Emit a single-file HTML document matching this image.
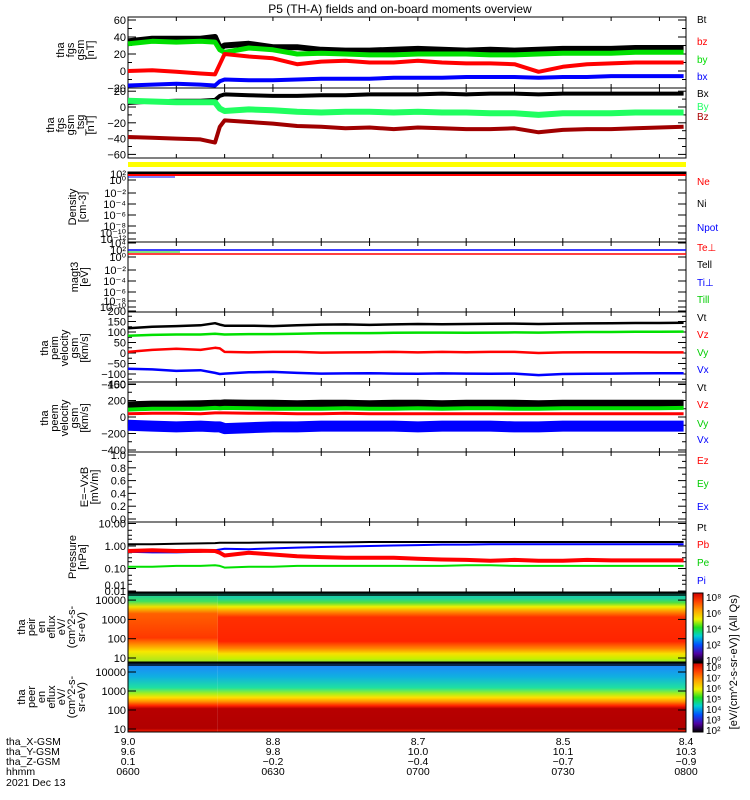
<!DOCTYPE html>
<html><head><meta charset="utf-8"><style>
html,body{margin:0;padding:0;background:#fff;}
svg text{font-family:"Liberation Sans",sans-serif;}
</style></head><body>
<svg id="c" width="750" height="800" xmlns="http://www.w3.org/2000/svg" style="display:block">
<defs>
<linearGradient id="ionSpec" x1="0" y1="0" x2="0" y2="1">
<stop offset="0" stop-color="#10c8b0"/><stop offset="0.08" stop-color="#20d0a0"/><stop offset="0.14" stop-color="#50e040"/>
<stop offset="0.2" stop-color="#f0f000"/><stop offset="0.27" stop-color="#ff9000"/><stop offset="0.35" stop-color="#ff3000"/>
<stop offset="0.7" stop-color="#ff2400"/><stop offset="0.8" stop-color="#ff8000"/><stop offset="0.88" stop-color="#f8e000"/>
<stop offset="0.95" stop-color="#c8f000"/><stop offset="1" stop-color="#90e830"/></linearGradient>
<linearGradient id="ionSpecL" x1="0" y1="0" x2="0" y2="1">
<stop offset="0" stop-color="#10c8b0"/><stop offset="0.12" stop-color="#40e060"/><stop offset="0.2" stop-color="#f0e000"/>
<stop offset="0.3" stop-color="#ff6000"/><stop offset="0.65" stop-color="#ff3800"/><stop offset="0.75" stop-color="#ff9000"/>
<stop offset="0.85" stop-color="#f8e800"/><stop offset="1" stop-color="#a0e820"/></linearGradient>
<linearGradient id="eleSpec" x1="0" y1="0" x2="0" y2="1">
<stop offset="0" stop-color="#2080ff"/><stop offset="0.2" stop-color="#10b0e0"/><stop offset="0.36" stop-color="#20e0a0"/>
<stop offset="0.44" stop-color="#a0f020"/><stop offset="0.5" stop-color="#ffe000"/><stop offset="0.56" stop-color="#ff9000"/>
<stop offset="0.62" stop-color="#ff2000"/><stop offset="0.66" stop-color="#b80000"/><stop offset="0.95" stop-color="#b00000"/>
<stop offset="1" stop-color="#ff2000"/></linearGradient>
<linearGradient id="cbar" x1="0" y1="0" x2="0" y2="1">
<stop offset="0" stop-color="#d00000"/><stop offset="0.12" stop-color="#ff4000"/><stop offset="0.25" stop-color="#ffa000"/>
<stop offset="0.38" stop-color="#f0f000"/><stop offset="0.5" stop-color="#20e020"/><stop offset="0.62" stop-color="#00d0d0"/>
<stop offset="0.75" stop-color="#0050ff"/><stop offset="0.88" stop-color="#5000a0"/><stop offset="1" stop-color="#000000"/></linearGradient>
</defs>
<g id="g"></g>
</svg>
<script>
// ---- data ----
const times = [0,5,10,15,18,19,20,25,30,35,40,45,50,55,60,65,70,75,80,85,90,95,100,105,110,115];
const fgsBt = [35,38,38,38,40,27,30,32,28,28,25,24,24,25,26,25,24,25,24,25,26,26,26,27,27,27];
const fgsBz = [0,1,-1,-3,-4,8,20,17,15,8,11,12,10,10,12,10,9,9,8,-1,5,8,9,10,10,10];
const fgsBy = [32,35,34,35,34,25,22,27,25,20,21,20,19,19,20,20,20,19,19,20,21,21,21,22,22,22];
const fgsBx = [-17,-16,-15,-16,-17,-12,-10,-11,-11,-10,-9,-9,-9,-8,-8,-8,-7,-7,-7,-8,-7,-7,-6,-6,-6,-6];
const tsgBx = [5,7,8,8,9,14,16,15,14,14,15,15,16,16,16,17,16,17,17,16,17,17,17,17,17,17];
const tsgBy = [8,7,6,6,6,-2,-5,-3,-4,-6,-7,-6,-6,-7,-6,-7,-7,-8,-8,-10,-8,-8,-8,-7,-7,-7];
const tsgBz = [-38,-39,-40,-41,-45,-25,-17,-19,-21,-24,-25,-27,-26,-28,-26,-27,-28,-28,-27,-32,-29,-28,-28,-27,-26,-25];
const viVt = [118,125,128,132,142,135,130,130,128,132,135,136,134,136,138,137,138,139,140,138,140,141,142,143,143,144];
const viVy = [82,86,88,88,92,90,88,90,90,92,94,95,95,96,97,97,96,97,98,97,99,100,100,101,101,102];
const viVz = [5,15,20,15,25,22,5,3,5,5,2,3,4,5,3,5,4,5,5,0,3,4,4,4,3,3];
const viVx = [-75,-78,-85,-82,-95,-100,-98,-92,-90,-95,-98,-97,-96,-98,-99,-97,-98,-99,-98,-105,-100,-99,-98,-97,-96,-96];
const veVt = [140,150,150,155,160,160,165,160,160,155,160,160,155,160,160,155,160,160,160,155,160,160,160,160,160,160];
const veVy = [90,100,100,100,110,105,110,105,100,100,100,105,100,100,105,100,105,105,100,100,105,105,105,105,105,110];
const veVz = [40,45,45,40,50,50,50,45,45,40,40,45,40,40,40,40,40,40,40,40,40,40,40,40,40,40];
const veVx = [-100,-110,-120,-110,-120,-120,-140,-130,-120,-120,-110,-110,-110,-110,-120,-110,-110,-110,-120,-120,-110,-110,-110,-110,-110,-110];
const pPt = [1.2,1.2,1.25,1.3,1.35,1.4,1.4,1.4,1.45,1.45,1.45,1.45,1.5,1.5,1.5,1.5,1.5,1.5,1.5,1.5,1.5,1.5,1.5,1.5,1.5,1.5];
const pPb = [0.6,0.65,0.6,0.62,0.6,0.5,0.38,0.5,0.42,0.35,0.32,0.3,0.3,0.3,0.27,0.25,0.24,0.22,0.24,0.22,0.22,0.24,0.23,0.23,0.23,0.23];
const pPi = [0.55,0.52,0.52,0.55,0.65,0.7,0.75,0.72,0.78,0.85,0.9,0.95,1.0,1.05,1.1,1.15,1.15,1.2,1.2,1.2,1.2,1.2,1.2,1.2,1.2,1.2];
const pPe = [0.12,0.12,0.13,0.13,0.14,0.13,0.11,0.12,0.12,0.13,0.13,0.13,0.13,0.13,0.13,0.13,0.14,0.14,0.13,0.13,0.13,0.13,0.13,0.13,0.13,0.13];
const xTickLabels = ["0600","0630","0700","0730","0800"];
const xGsm = ["9.0","8.8","8.7","8.5","8.4"];
const yGsm = ["9.6","9.8","10.0","10.1","10.3"];
const zGsm = ["0.1","-0.2","-0.4","-0.7","-0.9"];

// ---- layout ----
const X0=128, X1=686, TMAX=115.5;
const xs = t => X0 + (X1-X0)*t/TMAX;
const xLabelPos = [128,273,418,563,686];
const g = document.getElementById('g');
const NS='http://www.w3.org/2000/svg';
function el(tag, attrs, parent){const e=document.createElementNS(NS,tag);for(const k in attrs)e.setAttribute(k,attrs[k]);(parent||g).appendChild(e);return e;}
function txt(x,y,s,opt){opt=opt||{};const e=el('text',{x:x,y:y,'font-size':opt.size||11,fill:opt.fill||'#000','text-anchor':opt.anchor||'start'});if(opt.rot)e.setAttribute('transform','rotate(-90 '+x+' '+y+')');e.textContent=s;return e;}
function panel(name,top,bot){
  const r=el('rect',{x:X0,y:top,width:X1-X0,height:bot-top,fill:'none',stroke:'#000','stroke-width':1});
  
  
  for(let m=0;m<=TMAX;m+=10){const x=xs(m);el('line',{x1:x,y1:top,x2:x,y2:top+4,stroke:'#000'});el('line',{x1:x,y1:bot,x2:x,y2:bot-4,stroke:'#000'});}
}
function yticks(list,fn,minor){
  list.forEach(v=>{const y=fn(v[0]);el('line',{x1:X0,y1:y,x2:X0+8,y2:y,stroke:'#000'});el('line',{x1:X1,y1:y,x2:X1-8,y2:y,stroke:'#000'});
    txt(X0-2,y+4,v[1],{anchor:'end',size:11});});
  (minor||[]).forEach(v=>{const y=fn(v);el('line',{x1:X0,y1:y,x2:X0+4,y2:y,stroke:'#000'});el('line',{x1:X1,y1:y,x2:X1-4,y2:y,stroke:'#000'});});
}
function series(name,vals,fn,color,w){
  let d='';vals.forEach((v,i)=>{d+=(i?'L':'M')+xs(times[i]).toFixed(1)+' '+fn(v).toFixed(1);});
  const p=el('path',{d:d,fill:'none',stroke:color,'stroke-width':w||1.5,'stroke-linejoin':'round'});
  
  
}
function ylab(lines,x0,cy){lines.forEach((s,i)=>{const t=txt(x0+i*10,cy,s,{anchor:'middle',rot:true,size:11});});}
function legend(s,y,c){const t=txt(697,y,s,{fill:c,size:10});}

// title
const ti=txt(400,13,'P5 (TH-A) fields and on-board moments overview',{anchor:'middle',size:12});


// panel 1 fgs
const y1=v=>71-v*0.85;
panel('fgs-panel',17,88);
yticks([[60,'60'],[40,'40'],[20,'20'],[0,'0'],[-20,'−20']],y1,[50,30,10,-10]);
series('fgs-bt',fgsBt,y1,'#000',6);series('fgs-by',fgsBy,y1,'#00e000',5);series('fgs-bz',fgsBz,y1,'#ff0000',4);series('fgs-bx',fgsBx,y1,'#0000ff',4);
ylab(['tha','fgs','gsm','[nT]'],64,50);
legend('Bt',23,'#000');legend('bz',45,'#f00');legend('by',63,'#0d0');legend('bx',80,'#00f');

// panel 2
const y2=v=>107-v*0.79;
panel('fgs-tsg-panel',88,158);
yticks([[20,'20'],[0,'0'],[-20,'−20'],[-40,'−40'],[-60,'−60']],y2,[10,-10,-30,-50]);
series('tsg-bx',tsgBx,y2,'#000',4);series('tsg-by',tsgBy,y2,'#20ff60',6);series('tsg-bz',tsgBz,y2,'#a00000',4);
ylab(['tha','fgs','gsm','_tsg','[nT]'],54,125);
legend('Bx',97,'#000');legend('By',110,'#2f6');legend('Bz',120,'#a00');

// yellow bar
const yb=el('rect',{x:X0,y:162,width:X1-X0,height:5,fill:'#ffff00'});

// density
panel('density-panel',172,242);
[[174,'10²'],[180,'10⁰'],[193,'10⁻²'],[204,'10⁻⁴'],[215,'10⁻⁶'],[226,'10⁻⁸'],[233,'10⁻¹⁰'],[239,'10⁻¹²']].forEach(a=>{el('line',{x1:X0,y1:a[0],x2:X0+8,y2:a[0],stroke:'#000'});el('line',{x1:X1,y1:a[0],x2:X1-8,y2:a[0],stroke:'#000'});txt(X0-2,a[0]+4,a[1],{anchor:'end',size:11});});
el('line',{x1:X0,y1:173,x2:X1,y2:173,stroke:'#000','stroke-width':2});
el('line',{x1:X0,y1:175,x2:X1,y2:175,stroke:'#f00','stroke-width':2});
el('line',{x1:X0,y1:177,x2:175,y2:177,stroke:'#00f','stroke-width':1});
ylab(['Density','[cm-3]'],76,207);
legend('Ne',185,'#f00');legend('Ni',207,'#000');legend('Npot',231,'#00f');

// temperature
panel('temperature-panel',242,312);
[[243,'10⁴'],[250,'10²'],[257,'10⁰'],[270,'10⁻²'],[281,'10⁻⁴'],[292,'10⁻⁶'],[301,'10⁻⁸'],[307,'10⁻¹⁰']].forEach(a=>{el('line',{x1:X0,y1:a[0],x2:X0+8,y2:a[0],stroke:'#000'});el('line',{x1:X1,y1:a[0],x2:X1-8,y2:a[0],stroke:'#000'});txt(X0-2,a[0]+4,a[1],{anchor:'end',size:11});});
el('line',{x1:X0,y1:250,x2:X1,y2:250,stroke:'#00f','stroke-width':1.5});
el('line',{x1:X0,y1:254,x2:X1,y2:254,stroke:'#f00','stroke-width':1.5});
el('line',{x1:X0,y1:252,x2:180,y2:252,stroke:'#0c0','stroke-width':1});
ylab(['magt3','[eV]'],78,277);
legend('Te⊥',251,'#f00');legend('Tell',268,'#000');legend('Ti⊥',286,'#00f');legend('Till',303,'#0c0');

// ion velocity
const yv=v=>353-v*0.21;
panel('ion-velocity-panel',312,382);
yticks([[200,'200'],[150,'150'],[100,'100'],[50,'50'],[0,'0'],[-50,'−50'],[-100,'−100'],[-150,'−150']],yv,[175,125,75,25,-25,-75,-125]);
series('vi-vt',viVt,yv,'#000',2.5);series('vi-vy',viVy,yv,'#00e000',2.5);series('vi-vz',viVz,yv,'#f00',2.5);series('vi-vx',viVx,yv,'#00f',2.5);
ylab(['tha','peim','velocity','gsm','[km/s]'],48,348);
legend('Vt',321,'#000');legend('Vz',338,'#f00');legend('Vy',356,'#0c0');legend('Vx',373,'#00f');

// electron velocity
const yve=v=>417-v*0.0825;
panel('electron-velocity-panel',382,452);
yticks([[400,'400'],[200,'200'],[0,'0'],[-200,'−200'],[-400,'−400']],yve,[300,100,-100,-300]);
series('ve-vt',veVt,yve,'#000',8);series('ve-vy',veVy,yve,'#00e000',4);series('ve-vz',veVz,yve,'#f00',3);series('ve-vx',veVx,yve,'#00f',11);
ylab(['tha','peem','velocity','gsm','[km/s]'],48,418);
legend('Vt',391,'#000');legend('Vz',408,'#f00');legend('Vy',427,'#0c0');legend('Vx',443,'#00f');

// E field
const ye=v=>519-v*64;
panel('efield-panel',452,522);
yticks([[1,'1.0'],[0.8,'0.8'],[0.6,'0.6'],[0.4,'0.4'],[0.2,'0.2'],[0,'0.0']],ye,[0.9,0.7,0.5,0.3,0.1]);
ylab(['E=−VxB','[mV/m]'],88,487);
legend('Ez',464,'#f00');legend('Ey',487,'#0c0');legend('Ex',510,'#00f');

// pressure
const yp=v=>546-Math.log10(v)*22.5;
panel('pressure-panel',522,592);
yticks([[10,'10.00'],[1,'1.00'],[0.1,'0.10'],[0.01,'0.01']],yp,[5,3,2,0.5,0.3,0.2,0.05,0.03,0.02]);
series('p-pt',pPt,yp,'#000',2);series('p-pi',pPi,yp,'#00f',2);series('p-pb',pPb,yp,'#f00',4);series('p-pe',pPe,yp,'#00e000',2);
ylab(['Pressure','[nPa]'],76,557);
legend('Pt',531,'#000');legend('Pb',548,'#f00');legend('Pe',566,'#0c0');legend('Pi',584,'#00f');

// spectrograms
function spec(name,top,bot,fillL,fillR){
  const a=el('rect',{x:X0,y:top,width:xs(18.6)-X0,height:bot-top,fill:fillL});
  const b=el('rect',{x:xs(18.6),y:top,width:X1-xs(18.6),height:bot-top,fill:fillR});
  el('rect',{x:X0,y:top,width:X1-X0,height:3,fill:'#000',opacity:0.7});
  el('rect',{x:X0,y:top,width:X1-X0,height:bot-top,fill:'none',stroke:'#000'});
}
spec('ion-spectrogram',593,662,'url(#ionSpecL)','url(#ionSpec)');
yticks([[10000,'10000'],[1000,'1000'],[100,'100'],[10,'10']],v=>658-(Math.log10(v)-1)*19.3,[]);
txt(X0-2,589,'0.01',{anchor:'end',size:11});
ylab(['tha','peir','en','eflux','eV/','(cm^2-s-','sr-eV)'],25,627);
spec('electron-spectrogram',663,732,'url(#eleSpec)','url(#eleSpec)');
yticks([[10000,'10000'],[1000,'1000'],[100,'100'],[10,'10']],v=>729-(Math.log10(v)-1)*19,[]);
ylab(['tha','peer','en','eflux','eV/','(cm^2-s-','sr-eV)'],25,697);

// colorbars
[[593,662,['10⁸','10⁶','10⁴','10²','10⁰']],[663,732,['10⁸','10⁷','10⁶','10⁵','10⁴','10³','10²']]].forEach((c,k)=>{
  const r=el('rect',{x:693,y:c[0],width:10,height:c[1]-c[0],fill:'url(#cbar)',stroke:'#000'});
  
  c[2].forEach((s,i)=>{const y=c[0]+4+i*(c[1]-c[0]-6)/(c[2].length-1);txt(706,y+4,s,{size:10});});
});
const cl=txt(737,662,'[eV/(cm^2-s-sr-eV)] (All Qs)',{anchor:'middle',rot:true,size:11});


// bottom labels
[['tha_X-GSM',xGsm,745],['tha_Y-GSM',yGsm,755],['tha_Z-GSM',zGsm,765],['hhmm',xTickLabels,775]].forEach(r=>{
  const t=txt(6,r[2],r[0],{size:10.5});
  r[1].forEach((s,i)=>{const tt=txt(xLabelPos[i],r[2],s.replace('-','−'),{anchor:'middle',size:10.5});});
});
const dt=txt(6,786,'2021 Dec 13',{size:10.5});
</script>
</body></html>
